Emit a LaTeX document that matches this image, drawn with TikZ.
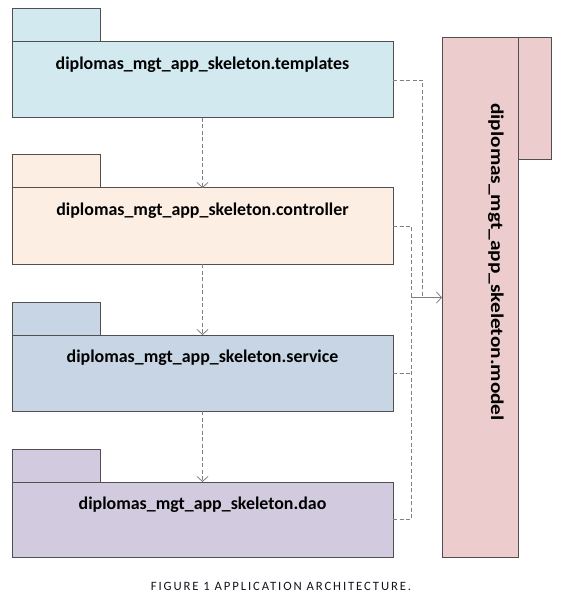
\documentclass[tikz,border=0pt]{standalone}
\usepackage{fontspec}
\setmainfont{Carlito}
\usetikzlibrary{arrows.meta,calc}

\definecolor{tplfill}{RGB}{210,233,239}
\definecolor{ctlfill}{RGB}{253,238,228}
\definecolor{svcfill}{RGB}{200,213,229}
\definecolor{daofill}{RGB}{210,203,224}
\definecolor{mdlfill}{RGB}{236,204,204}
\definecolor{edge}{RGB}{80,80,80}
\definecolor{link}{RGB}{128,128,128}
\definecolor{captxt}{RGB}{20,20,30}

\tikzset{
  pkgbox/.style={draw=edge, line width=1pt, inner sep=0pt, outer sep=0pt,
                 minimum width=381pt, minimum height=76pt, anchor=north west},
  pkgtab/.style={draw=edge, line width=1pt, inner sep=0pt, outer sep=0pt,
                 minimum width=88pt, minimum height=33pt, anchor=south west},
  pkgname/.style={font=\fontsize{17.9}{21}\selectfont\bfseries, text=black, inner sep=0pt},
  dep/.style={draw=link, line width=0.8pt, dash pattern=on 4pt off 2.5pt},
  deparrow/.style={dep, -{Straight Barb[length=5pt,width=11pt]}},
  joinarrow/.style={draw=link, line width=0.8pt, -{Straight Barb[length=5pt,width=11pt]}}
}

\begin{document}
\begin{tikzpicture}[x=1pt,y=-1pt]
  \useasboundingbox (0,0) rectangle (583,601);

  % package tabs
  \node[pkgtab, fill=tplfill] (templates-tab) at (12,42) {};
  \node[pkgtab, fill=ctlfill] (controller-tab) at (12,188) {};
  \node[pkgtab, fill=svcfill] (service-tab) at (12,335) {};
  \node[pkgtab, fill=daofill] (dao-tab) at (12,482) {};

  % package bodies
  \node[pkgbox, fill=tplfill] (templates) at (12,42) {};
  \node[pkgbox, fill=ctlfill] (controller) at (12,188) {};
  \node[pkgbox, fill=svcfill] (service) at (12,335) {};
  \node[pkgbox, fill=daofill, minimum height=75pt] (dao) at (12,482) {};

  % package names
  \node[pkgname] (templates-name) at ($(templates.north)+(0,23)$) {diplomas\_mgt\_app\_skeleton.templates};
  \node[pkgname] (controller-name) at ($(controller.north)+(0,23)$) {diplomas\_mgt\_app\_skeleton.controller};
  \node[pkgname] (service-name) at ($(service.north)+(0,23)$) {diplomas\_mgt\_app\_skeleton.service};
  \node[pkgname] (dao-name) at ($(dao.north)+(0,23)$) {diplomas\_mgt\_app\_skeleton.dao};

  % model package, standing upright
  \node[draw=edge, line width=1pt, fill=mdlfill, inner sep=0pt, outer sep=0pt,
        minimum width=33pt, minimum height=122pt, anchor=north west] (model-tab) at (518,38) {};
  \node[draw=edge, line width=1pt, fill=mdlfill, inner sep=0pt, outer sep=0pt,
        minimum width=76pt, minimum height=519pt, anchor=north west] (model) at (442,38) {};
  \node[pkgname, rotate=-90, xscale=1.19] (model-name) at (496,262) {diplomas\_mgt\_app\_skeleton.model};

  % layer dependencies
  \draw[deparrow] (templates.south) -- (controller.north);
  \draw[deparrow] (controller.south) -- (service.north);
  \draw[deparrow] (service.south) -- (dao.north);

  % dependencies on the model
  \coordinate (outer-bus) at ($(model.west)+(-20,0)$);
  \coordinate (inner-bus) at ($(model.west)+(-31,0)$);
  \draw[dep] (templates.east) -| (outer-bus);
  \draw[dep] (controller.east) -| (inner-bus);
  \draw[dep] (dao.east) -| (inner-bus);
  \draw[dep] (service.east) -- (service.east -| inner-bus);
  \draw[joinarrow] (inner-bus) -- (model.west);

  % caption
  \node[font=\fontsize{12.7}{15}\selectfont\addfontfeature{LetterSpace=15}, text=captxt, inner sep=0pt]
    (caption) at (281,586) {FIGURE 1 APPLICATION ARCHITECTURE.};
\end{tikzpicture}
\end{document}
